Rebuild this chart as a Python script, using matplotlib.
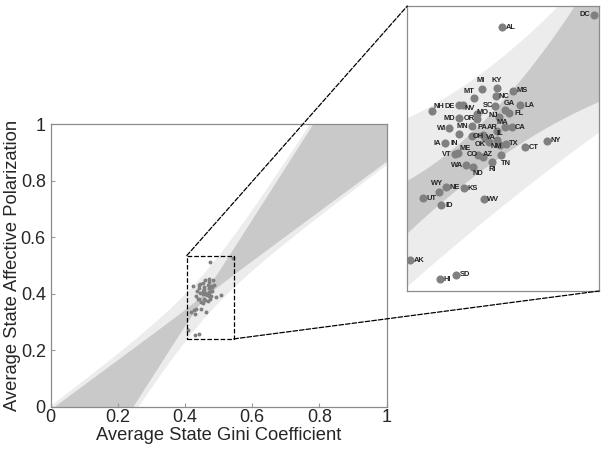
import numpy as np
import matplotlib
matplotlib.use("Agg")
import matplotlib.pyplot as plt
from matplotlib.patches import Rectangle, ConnectionPatch

plt.rcParams['font.family'] = ['Liberation Sans', 'DejaVu Sans']

# state averages: gini coefficient (x) and affective polarization (y)
states = ['DC', 'AL', 'MI', 'KY', 'MT', 'MS', 'NC', 'NH', 'DE', 'NV', 'SC', 'GA', 'LA',
          'MO', 'NJ', 'FL', 'MD', 'OR', 'MN', 'WI', 'PA', 'AR', 'MA', 'CA', 'OH', 'IL',
          'VA', 'OK', 'NM', 'TX', 'NY', 'CT', 'TN', 'IA', 'IN', 'ME', 'VT', 'CO', 'AZ',
          'RI', 'WA', 'ND', 'WY', 'NE', 'KS', 'UT', 'ID', 'WV', 'AK', 'HI', 'SD']
gini = [0.5416, 0.4741, 0.4595, 0.4706, 0.4536, 0.4821, 0.4697, 0.4230, 0.4426, 0.4455,
        0.4687, 0.4760, 0.4874, 0.4560, 0.4716, 0.4794, 0.4424, 0.4560, 0.4522, 0.4358,
        0.4606, 0.4704, 0.4765, 0.4813, 0.4520, 0.4706, 0.4619, 0.4643, 0.4724, 0.4768,
        0.5069, 0.4910, 0.4735, 0.4322, 0.4431, 0.4420, 0.4395, 0.4566, 0.4606, 0.4668,
        0.4480, 0.4529, 0.4278, 0.4332, 0.4466, 0.4164, 0.4298, 0.4609, 0.4072, 0.4286,
        0.4402]
polar = [0.5257, 0.5130, 0.4488, 0.4504, 0.4395, 0.4473, 0.4418, 0.4263, 0.4325, 0.4330,
         0.4315, 0.4274, 0.4322, 0.4232, 0.4204, 0.4239, 0.4188, 0.4180, 0.4105, 0.4087,
         0.4020, 0.4061, 0.4094, 0.4094, 0.4004, 0.3968, 0.3981, 0.3945, 0.3911, 0.3922,
         0.3953, 0.3887, 0.3808, 0.3929, 0.4025, 0.3825, 0.3818, 0.3808, 0.3790, 0.3738,
         0.3704, 0.3687, 0.3428, 0.3473, 0.3463, 0.3360, 0.3290, 0.3349, 0.2721, 0.2524,
         0.2566]

# regression fit and bands in the main panel
fit_xm, fit_ym, fit_slope = 0.4535, 0.387, 1.373
ci_slope, ci_const = 0.494, 0.011      # confidence band (dark)
pi_const = 0.080                        # prediction band (light)

# band edges as drawn in the zoomed panel
inset_x = [0.400, 0.450, 0.500, 0.550]
inset_light_lo = [0.239, 0.300, 0.357, 0.410]
inset_light_hi = [0.416, 0.457, 0.5145, 0.590]
inset_dark_lo = [0.294, 0.354, 0.405, 0.439]
inset_dark_hi = [0.349, 0.408, 0.475, 0.590]

# zoom window
zoom_x = (0.405, 0.545)
zoom_y = (0.24, 0.535)

# label offsets in pixels (layout only)
lab_off = {
    'DC': (-9.5, 0), 'AL': (9, 0), 'MI': (-1.5, 8.5), 'KY': (-0.5, 7.5), 'MT': (-4.5, 7),
    'MS': (9.5, 0), 'NC': (7.5, 0), 'NH': (7, 5), 'DE': (-9, -1), 'NV': (7, -3.8),
    'SC': (-7, 0.7), 'GA': (4.7, 6.5), 'LA': (9, 0), 'MO': (5.5, 2), 'NJ': (-5, 1.4),
    'FL': (9.5, 0), 'MD': (-9, 0), 'OR': (-8, 0.7), 'MN': (-9.5, 0), 'WI': (-8.3, 0),
    'PA': (-0.8, 7), 'AR': (-4.4, 3), 'MA': (-2.7, 4.5), 'CA': (8.5, 0), 'OH': (7, -0.5),
    'IL': (3, 6.5), 'VA': (6, 0.8), 'OK': (-8.3, -2.6), 'NM': (-3.5, -1.5), 'TX': (8, 0),
    'NY': (9, 0), 'CT': (8.5, 0), 'TN': (5, -8.5), 'IA': (-7.5, 0), 'IN': (-5.3, -9.3),
    'ME': (7.5, 4.5), 'VT': (-8, 0), 'CO': (-5.5, 0), 'AZ': (4.5, 2.2), 'RI': (0.6, -7.8),
    'WA': (-9, 0), 'ND': (5, -7), 'WY': (-1.6, 7.8), 'NE': (8.8, 0), 'KS': (8.5, 0),
    'UT': (8.8, 0), 'ID': (7.5, 0), 'WV': (8.8, 0), 'AK': (9, 0), 'HI': (7.5, 0),
    'SD': (9.5, 0)}

light = '#ececec'
dark = '#c9c9c9'
dot = '#808080'
txt = '#262626'

fig = plt.figure(figsize=(6.01, 4.55), dpi=100)

# main axes
ax = fig.add_axes([0.0844, 0.1062, 0.559, 0.6207])
xs = np.linspace(-0.1, 1.1, 600)
yc = fit_ym + fit_slope * (xs - fit_xm)
hw_ci = np.sqrt(ci_const ** 2 + (ci_slope * (xs - fit_xm)) ** 2)
hw_pi = np.sqrt(pi_const ** 2 + (ci_slope * (xs - fit_xm)) ** 2)
ax.fill_between(xs, yc - hw_pi, yc + hw_pi, color=light, lw=0, zorder=0)
ax.fill_between(xs, yc - hw_ci, yc + hw_ci, color=dark, lw=0, zorder=1)
ax.scatter(gini, polar, s=8, color=dot, lw=0, zorder=3)
ax.set_xlim(0, 1)
ax.set_ylim(0, 1)
ticks = [0, 0.2, 0.4, 0.6, 0.8, 1]
ax.set_xticks(ticks)
ax.set_yticks(ticks)
ax.set_xticklabels(['0', '0.2', '0.4', '0.6', '0.8', '1'])
ax.set_yticklabels(['0', '0.2', '0.4', '0.6', '0.8', '1'])
ax.tick_params(direction='in', length=3, color='#999999', labelsize=13,
               labelcolor=txt)
ax.tick_params(axis='x', pad=1.5)
ax.tick_params(axis='y', pad=3.5)
for sp in ax.spines.values():
    sp.set_color('#8c8c8c')
    sp.set_linewidth(0.9)
ax.set_xlabel('Average State Gini Coefficient', fontsize=13.2, color=txt, labelpad=1)
ax.set_ylabel('Average State Affective Polarization', fontsize=13.2, color=txt, labelpad=0)

rect = Rectangle((zoom_x[0], zoom_y[0]), zoom_x[1] - zoom_x[0], zoom_y[1] - zoom_y[0],
                 fill=False, ls='--', lw=0.9, ec='black', zorder=4)
ax.add_patch(rect)

# inset axes, band edges smoothed with a quadratic through the read points
axi = fig.add_axes([0.6777, 0.3604, 0.319, 0.6264])
xz = np.linspace(inset_x[0], inset_x[-1], 200)


def smooth(vals):
    return np.polyval(np.polyfit(inset_x, vals, 2), xz)


axi.fill_between(xz, smooth(inset_light_lo), smooth(inset_light_hi), color=light, lw=0, zorder=0)
axi.fill_between(xz, smooth(inset_dark_lo), smooth(inset_dark_hi), color=dark, lw=0, zorder=1)
axi.scatter(gini, polar, s=34, color=dot, lw=0, zorder=3)
for st, gx, py in zip(states, gini, polar):
    dx, dy = lab_off[st]
    axi.annotate(st, (gx, py), xytext=(dx, dy), textcoords='offset pixels',
                 ha='center', va='center', fontsize=5.4, fontweight='bold',
                 color='#222222', zorder=4)
axi.set_xlim(*zoom_x)
axi.set_ylim(*zoom_y)
axi.set_xticks([])
axi.set_yticks([])
for sp in axi.spines.values():
    sp.set_color('#8c8c8c')
    sp.set_linewidth(0.9)

# connector lines
c1 = ConnectionPatch(xyA=(zoom_x[0], zoom_y[1]), coordsA=ax.transData,
                     xyB=(0, 1), coordsB=axi.transAxes,
                     ls='--', lw=0.9, color='black')
c2 = ConnectionPatch(xyA=(zoom_x[1], zoom_y[0]), coordsA=ax.transData,
                     xyB=(1, 0), coordsB=axi.transAxes,
                     ls='--', lw=0.9, color='black')
fig.add_artist(c1)
fig.add_artist(c2)

fig.savefig('out.png', dpi=100)
